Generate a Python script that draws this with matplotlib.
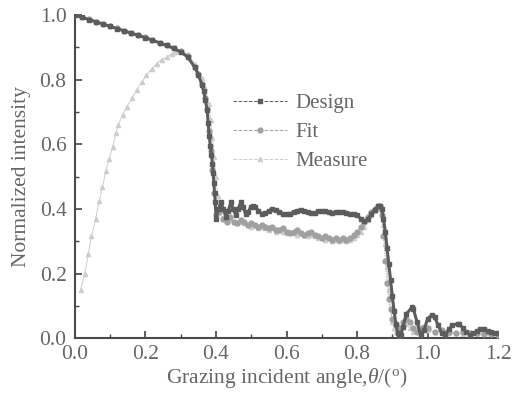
import numpy as np
import matplotlib.pyplot as plt

plt.rcParams['font.family'] = ['Liberation Serif', 'DejaVu Serif']
plt.rcParams['mathtext.fontset'] = 'custom'
plt.rcParams['mathtext.it'] = 'Liberation Serif:italic'
plt.rcParams['mathtext.rm'] = 'Liberation Serif'

# Design curve
x_design = [0.00, 0.02, 0.04, 0.06, 0.08, 0.10, 0.12, 0.14, 0.16, 0.18, 0.20, 0.22, 0.24, 0.26, 0.28,
            0.30, 0.32, 0.34, 0.35, 0.36, 0.365, 0.37, 0.375, 0.378, 0.381, 0.384, 0.387, 0.39, 0.392,
            0.394, 0.396, 0.398, 0.400, 0.407, 0.414, 0.421, 0.428, 0.435, 0.442, 0.449, 0.456, 0.463,
            0.470, 0.477, 0.484, 0.491, 0.498, 0.505, 0.512, 0.52, 0.53, 0.54, 0.55, 0.56, 0.57, 0.58,
            0.59, 0.60, 0.61, 0.62, 0.63, 0.64, 0.65, 0.66, 0.67, 0.68, 0.69, 0.70, 0.71, 0.72, 0.73,
            0.74, 0.75, 0.76, 0.77, 0.78, 0.79, 0.80, 0.81, 0.82, 0.83, 0.84, 0.85, 0.86, 0.865, 0.87,
            0.875, 0.88, 0.885, 0.89, 0.895, 0.90, 0.905, 0.91, 0.915, 0.92, 0.925, 0.93, 0.94, 0.955,
            0.96, 0.97, 0.98, 0.99, 1.00, 1.012, 1.02, 1.03, 1.04, 1.05, 1.06, 1.07, 1.085, 1.09, 1.10,
            1.11, 1.12, 1.13, 1.14, 1.15, 1.16, 1.17, 1.18, 1.19, 1.20]
y_design = [1.000, 0.993, 0.986, 0.979, 0.972, 0.965, 0.958, 0.951, 0.944, 0.937, 0.930, 0.922, 0.914, 0.906, 0.897,
            0.886, 0.870, 0.838, 0.815, 0.785, 0.765, 0.738, 0.705, 0.665, 0.625, 0.595, 0.568, 0.540, 0.510,
            0.480, 0.450, 0.420, 0.370, 0.400, 0.420, 0.400, 0.375, 0.395, 0.420, 0.400, 0.380, 0.400,
            0.420, 0.405, 0.385, 0.390, 0.405, 0.410, 0.405, 0.395, 0.385, 0.387, 0.395, 0.400, 0.398, 0.390,
            0.385, 0.383, 0.385, 0.390, 0.395, 0.397, 0.395, 0.390, 0.386, 0.388, 0.393, 0.395, 0.393, 0.390, 0.388,
            0.390, 0.392, 0.390, 0.386, 0.385, 0.385, 0.380, 0.370, 0.362, 0.368, 0.383, 0.398, 0.408, 0.410, 0.400,
            0.370, 0.330, 0.280, 0.230, 0.180, 0.130, 0.085, 0.045, 0.015, 0.000, 0.010, 0.035, 0.075, 0.095,
            0.090, 0.050, 0.010, 0.025, 0.060, 0.072, 0.065, 0.040, 0.015, 0.010, 0.028, 0.040, 0.045, 0.043, 0.032,
            0.018, 0.010, 0.015, 0.022, 0.027, 0.027, 0.023, 0.018, 0.015, 0.016]

# Fit curve
x_fit = [0.00, 0.02, 0.04, 0.06, 0.08, 0.10, 0.12, 0.14, 0.16, 0.18, 0.20, 0.22, 0.24, 0.26, 0.28,
         0.30, 0.32, 0.34, 0.35, 0.36, 0.37, 0.375, 0.38, 0.385, 0.39, 0.395, 0.40, 0.41, 0.42, 0.43,
         0.44, 0.45, 0.46, 0.47, 0.48, 0.49, 0.50, 0.51, 0.52, 0.53, 0.54, 0.55, 0.56, 0.57, 0.58, 0.59,
         0.60, 0.61, 0.62, 0.63, 0.64, 0.65, 0.66, 0.67, 0.68, 0.69, 0.70, 0.71, 0.72, 0.73, 0.74, 0.75,
         0.76, 0.77, 0.78, 0.79, 0.80, 0.81, 0.82, 0.83, 0.84, 0.85, 0.86, 0.865, 0.87, 0.875, 0.88,
         0.885, 0.89, 0.895, 0.90, 0.91, 0.92, 0.93, 0.94, 0.95, 0.96, 0.97, 0.98, 0.99, 1.00, 1.02,
         1.04, 1.06, 1.08, 1.10, 1.12, 1.14, 1.16, 1.18, 1.20]
y_fit = [1.000, 0.994, 0.987, 0.980, 0.973, 0.966, 0.959, 0.952, 0.945, 0.938, 0.931, 0.923, 0.915, 0.907, 0.898,
         0.888, 0.872, 0.840, 0.818, 0.788, 0.742, 0.708, 0.640, 0.580, 0.520, 0.450, 0.380, 0.390, 0.370, 0.360,
         0.375, 0.360, 0.355, 0.365, 0.360, 0.350, 0.355, 0.350, 0.345, 0.350, 0.345, 0.340, 0.345, 0.335, 0.335, 0.340,
         0.330, 0.325, 0.330, 0.335, 0.325, 0.320, 0.325, 0.330, 0.320, 0.315, 0.310, 0.315, 0.310, 0.305, 0.310, 0.305,
         0.310, 0.305, 0.310, 0.320, 0.330, 0.345, 0.360, 0.375, 0.390, 0.400, 0.410, 0.410, 0.380, 0.315, 0.240,
         0.170, 0.120, 0.090, 0.060, 0.040, 0.030, 0.050, 0.060, 0.050, 0.030, 0.020, 0.030, 0.035, 0.030, 0.020,
         0.025, 0.020, 0.015, 0.020, 0.015, 0.015, 0.012, 0.012, 0.010]

# Measure curve
x_meas = [0.016, 0.028, 0.038, 0.047, 0.059, 0.069, 0.078, 0.088, 0.097, 0.107, 0.116, 0.123, 0.135,
          0.147, 0.161, 0.175, 0.189, 0.203, 0.218, 0.232, 0.246, 0.260, 0.274, 0.288, 0.300, 0.32,
          0.34, 0.36, 0.37, 0.38, 0.385, 0.39, 0.395, 0.40, 0.405, 0.41, 0.42, 0.43, 0.44, 0.45, 0.46,
          0.47, 0.48, 0.49, 0.50, 0.51, 0.52, 0.53, 0.54, 0.55, 0.56, 0.57, 0.58, 0.59, 0.60, 0.61, 0.62,
          0.63, 0.64, 0.65, 0.66, 0.67, 0.68, 0.69, 0.70, 0.71, 0.72, 0.73, 0.74, 0.75, 0.76, 0.77, 0.78,
          0.79, 0.80, 0.81, 0.82, 0.83, 0.84, 0.85, 0.86, 0.87, 0.875, 0.88, 0.885, 0.89, 0.895, 0.90,
          0.905, 0.91, 0.92, 0.93, 0.94, 0.95, 0.96, 0.97, 0.98, 1.00, 1.02, 1.04, 1.06, 1.08, 1.10,
          1.12, 1.14, 1.16, 1.18, 1.20]
y_meas = [0.149, 0.200, 0.260, 0.315, 0.370, 0.425, 0.468, 0.518, 0.553, 0.592, 0.634, 0.660, 0.690,
          0.716, 0.742, 0.768, 0.792, 0.814, 0.833, 0.850, 0.862, 0.870, 0.880, 0.887, 0.890, 0.878,
          0.850, 0.805, 0.775, 0.725, 0.675, 0.620, 0.560, 0.500, 0.440, 0.400, 0.370, 0.365, 0.370, 0.360, 0.355,
          0.360, 0.355, 0.350, 0.345, 0.350, 0.340, 0.345, 0.340, 0.335, 0.340, 0.330, 0.335, 0.330, 0.325, 0.330, 0.325,
          0.320, 0.325, 0.320, 0.315, 0.320, 0.315, 0.310, 0.310, 0.305, 0.310, 0.300, 0.305, 0.300, 0.305, 0.300, 0.305,
          0.310, 0.320, 0.330, 0.345, 0.365, 0.380, 0.395, 0.400, 0.390, 0.350, 0.290, 0.220, 0.150, 0.090, 0.050,
          0.030, 0.020, 0.030, 0.050, 0.045, 0.030, 0.020, 0.025, 0.030, 0.025, 0.020, 0.020, 0.015, 0.015, 0.012,
          0.012, 0.010, 0.010, 0.010, 0.010]

c_design = '#5c5c5c'
c_fit = '#a0a0a0'
c_meas = '#cdcdcd'
c_text = '#666666'

fig = plt.figure(figsize=(5.13, 3.96), dpi=100)
ax = fig.add_axes([0.146, 0.146, 0.825, 0.816])

ax.plot(x_meas, y_meas, color=c_meas, lw=0.7, ls='-', marker='^', ms=3, mec=c_meas, mfc=c_meas,
        label='Measure', zorder=2)
ax.plot(x_fit, y_fit, color=c_fit, lw=0.7, ls=':', marker='o', ms=3.5, mec=c_fit, mfc=c_fit,
        label='Fit', zorder=3)
ax.plot(x_design, y_design, color=c_design, lw=2.2, ls='-', marker='s', ms=3, mec=c_design, mfc=c_design,
        label='Design', zorder=4)

ax.set_xlim(0, 1.2)
ax.set_ylim(0, 1.0)
ax.set_xticks(np.arange(0, 1.21, 0.2))
ax.set_yticks(np.arange(0, 1.01, 0.2))
ax.set_xticks(np.arange(0.1, 1.2, 0.2), minor=True)
ax.set_yticks(np.arange(0.1, 1.0, 0.2), minor=True)
ax.set_xticklabels(['%.1f' % v for v in np.arange(0, 1.21, 0.2)])
ax.set_yticklabels(['%.1f' % v for v in np.arange(0, 1.01, 0.2)])
ax.tick_params(which='major', direction='in', length=5, width=1.2, color='#444444',
               labelsize=15.5, labelcolor=c_text)
ax.tick_params(axis='x', which='major', pad=5)
ax.tick_params(axis='y', which='major', pad=6)
ax.tick_params(which='minor', direction='in', length=3, width=1.0, color='#444444')

for s in ['top', 'right']:
    ax.spines[s].set_visible(False)
for s in ['left', 'bottom']:
    ax.spines[s].set_color('#4a4a4a')
    ax.spines[s].set_linewidth(1.5)

ax.set_xlabel(r'Grazing incident angle,$\it{\theta}$/($\rm{^o}$)', fontsize=15.5, color=c_text, labelpad=1)
ax.set_ylabel('Normalized intensity', fontsize=15.5, color=c_text, labelpad=6)

handles, labels = ax.get_legend_handles_labels()
leg = ax.legend(handles[::-1], labels[::-1], loc='upper left', bbox_to_anchor=(0.33, 0.815),
                frameon=False, fontsize=15, numpoints=1, handlelength=2.6, labelspacing=0.45,
                handletextpad=0.4)
for t in leg.get_texts():
    t.set_color(c_text)
for h in leg.get_lines():
    h.set_linewidth(0.7)
    h.set_linestyle('--')

fig.savefig('out.png', dpi=100)
